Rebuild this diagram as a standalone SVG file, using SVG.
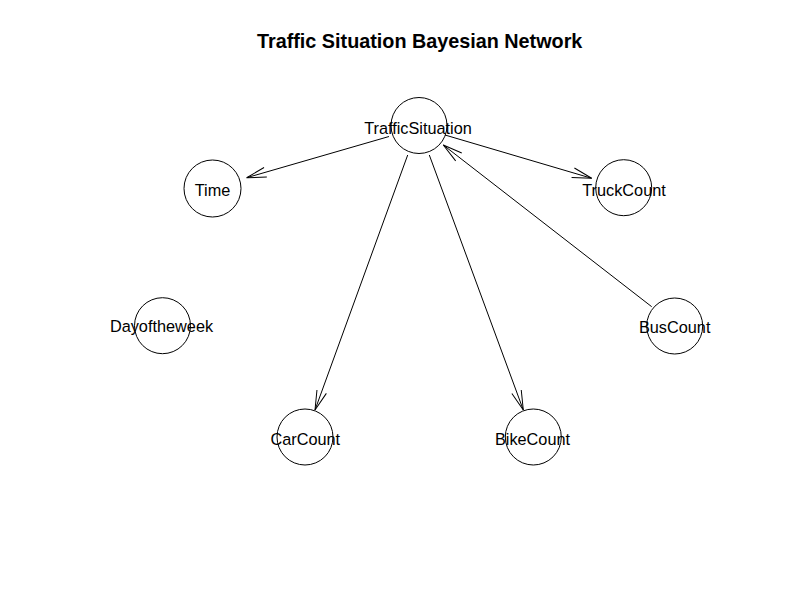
<svg xmlns="http://www.w3.org/2000/svg" width="800" height="600" viewBox="0 0 800 600">
<style>
.node circle{fill:none;stroke:#000;stroke-width:1}
.node text{font-family:"Liberation Sans",Arial,sans-serif;font-size:16.3px;text-anchor:middle;fill:#000}
.edge{stroke:#000;stroke-width:1;fill:none;marker-end:url(#arr)}
.title{font-family:"Liberation Sans",Arial,sans-serif;font-size:19.8px;font-weight:bold;text-anchor:middle;fill:#000}
</style>
<defs>
<marker id="arr" markerUnits="userSpaceOnUse" orient="auto" refX="0" refY="0" markerWidth="30" markerHeight="30" viewBox="-25 -10 30 20" overflow="visible">
<path d="M-19.5,-5 L0,0 L-19.5,5" fill="none" stroke="#000" stroke-width="1"/>
</marker>
</defs>
<rect width="800" height="600" fill="#fff"/>
<text class="title" x="419.7" y="47.7">Traffic Situation Bayesian Network</text>
<g id="connectors">
<line class="edge" x1="389" y1="136.5" x2="246.7" y2="177.7"/>
<line class="edge" x1="445" y1="135" x2="591.7" y2="178.3"/>
<line class="edge" x1="407.7" y1="155" x2="315" y2="410"/>
<line class="edge" x1="429.3" y1="155" x2="523.3" y2="410"/>
<line class="edge" x1="651.7" y1="306.7" x2="443.3" y2="145"/>
</g>
<g id="TrafficSituation" class="node"><circle cx="419" cy="125.5" r="28"/><text x="418" y="134">TrafficSituation</text></g>
<g id="Time" class="node"><circle cx="212.5" cy="188.5" r="28.5"/><text x="212.5" y="196">Time</text></g>
<g id="TruckCount" class="node"><circle cx="623.7" cy="187.7" r="28"/><text x="624" y="195.7">TruckCount</text></g>
<g id="Dayoftheweek" class="node"><circle cx="162.5" cy="325.7" r="28"/><text x="161.5" y="332">Dayoftheweek</text></g>
<g id="BusCount" class="node"><circle cx="674.7" cy="326" r="28"/><text x="674.7" y="333">BusCount</text></g>
<g id="CarCount" class="node"><circle cx="305" cy="437" r="28"/><text x="305.3" y="445">CarCount</text></g>
<g id="BikeCount" class="node"><circle cx="533.3" cy="437" r="28"/><text x="532.5" y="445">BikeCount</text></g>
</svg>
